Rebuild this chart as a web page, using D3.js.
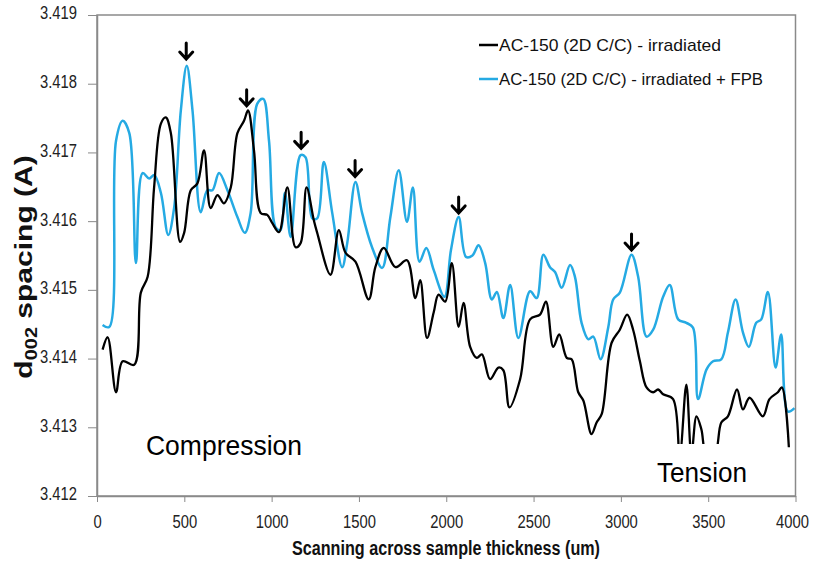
<!DOCTYPE html>
<html><head><meta charset="utf-8">
<script src="https://cdn.jsdelivr.net/npm/d3@7"></script>
<style>body{margin:0;background:#fff}svg{display:block}</style>
</head><body>
<svg id="chart" width="813" height="561"></svg>
<script>
// ---- data ----
const xTicks = [0,500,1000,1500,2000,2500,3000,3500,4000];
const yTicks = [3.412,3.413,3.414,3.415,3.416,3.417,3.418,3.419];
const seriesNames = ["AC-150 (2D C/C) - irradiated", "AC-150 (2D C/C) -  irradiated + FPB"];
const blackX = [32,61,109,147,213,251,290,327,366,394,423,476,499,537,575,613,651,690,727,766,804,842,865,899,937,975,1004,1042,1090,1137,1166,1200,1242,1261,1337,1385,1423,1480,1556,1594,1642,1709,1775,1823,1851,1890,1928,1956,1994,2032,2071,2099,2137,2175,2204,2251,2299,2327,2362,2423,2480,2537,2571,2613,2647,2690,2718,2756,2785,2832,2861,2890,2947,2994,3036,3070,3109,3147,3185,3213,3242,3299,3337,3375,3404,3433,3461,3490,3537,3575,3613,3665,3699,3737,3813,3851,3899,3922,3962];
const blackY = [3.41413,3.41431,3.41351,3.41396,3.41391,3.41496,3.41519,3.41649,3.41742,3.41751,3.41728,3.4157,3.41583,3.41645,3.41655,3.41703,3.41619,3.41638,3.41626,3.41649,3.41728,3.41746,3.41761,3.41703,3.41612,3.41609,3.41597,3.41584,3.41649,3.41562,3.41568,3.41649,3.41601,3.41583,3.41522,3.41587,3.41554,3.41541,3.41486,3.41533,3.41561,3.41533,3.41543,3.41488,3.41514,3.4143,3.41467,3.41493,3.41483,3.41539,3.41446,3.41481,3.41417,3.41401,3.41406,3.4137,3.41387,3.41383,3.41329,3.4137,3.41457,3.41464,3.41483,3.41417,3.41435,3.41401,3.41399,3.41351,3.41339,3.4129,3.41307,3.41319,3.41423,3.41442,3.41464,3.41442,3.41396,3.41358,3.41351,3.41355,3.41348,3.41341,3.4126,3.41362,3.4126,3.41316,3.41297,3.4126,3.4126,3.41307,3.41316,3.41355,3.41326,3.41343,3.41316,3.41341,3.41351,3.41358,3.41271];
const blueX = [32,70,109,147,185,223,261,299,328,366,408,442,480,514,547,594,632,661,699,747,804,846,880,918,952,985,1023,1051,1076,1109,1166,1194,1233,1261,1299,1347,1404,1433,1480,1518,1575,1633,1680,1728,1775,1809,1847,1886,1928,1990,2027,2071,2113,2150,2185,2223,2261,2290,2327,2366,2413,2480,2518,2556,2594,2623,2661,2709,2737,2775,2814,2842,2884,2928,2956,2994,3061,3099,3147,3185,3242,3280,3328,3375,3413,3442,3490,3528,3575,3613,3657,3699,3733,3775,3804,3842,3886,3918,3956,3994];
const blueY = [3.41449,3.41446,3.41717,3.41746,3.41728,3.41539,3.4167,3.41662,3.41667,3.41641,3.4158,3.4162,3.41761,3.41826,3.41761,3.41613,3.41645,3.41645,3.4167,3.41645,3.41606,3.41583,3.41612,3.41771,3.41778,3.41717,3.41591,3.41587,3.41641,3.41577,3.41696,3.41693,3.41604,3.41604,3.41686,3.41612,3.41533,3.41568,3.41657,3.41612,3.41562,3.41532,3.41606,3.41674,3.41599,3.41649,3.41541,3.41561,3.41529,3.4149,3.41558,3.41606,3.41548,3.4155,3.41565,3.41539,3.41486,3.41497,3.41459,3.41507,3.4143,3.41498,3.41488,3.41551,3.41533,3.41526,3.41503,3.41536,3.41519,3.41452,3.41428,3.41432,3.41399,3.41446,3.41486,3.41496,3.41551,3.41519,3.41432,3.41442,3.4149,3.41507,3.41457,3.41452,3.41445,3.41341,3.41384,3.41396,3.41399,3.41438,3.41486,3.41438,3.41417,3.41452,3.41457,3.41497,3.41387,3.41435,3.41323,3.41328];
const arrowX = [511,857,1169,1478,2071,3061];
const arrowY = [3.41833,3.41765,3.41703,3.41662,3.41609,3.41555];

// ---- layout ----
const svg = d3.select("#chart");
const L = 97, R = 795.5, T = 15, B = 496;
const x = d3.scaleLinear().domain([0,4000]).range([L,R]);
const y = d3.scaleLinear().domain([3.412,3.419]).range([B,T]);
const sans = "'Liberation Sans',Arial,sans-serif";
const gray = "#8a8a8a";
function squeeze(sel, f){
  sel.each(function(){ const w = this.getComputedTextLength(); d3.select(this).attr("textLength", w*f).attr("lengthAdjust","spacingAndGlyphs"); });
}

// lines
const line = d3.line().x(d=>x(d[0])).y(d=>y(d[1])).curve(d3.curveCatmullRom.alpha(0.5));
const black = blackX.map((v,i)=>[v,blackY[i]]);
const blue = blueX.map((v,i)=>[v,blueY[i]]);
svg.append("defs").append("clipPath").attr("id","clip").append("rect")
  .attr("x",L).attr("y",T).attr("width",R-L).attr("height",B-T);
const g = svg.append("g").attr("clip-path","url(#clip)");
g.append("path").datum(blue).attr("d",line).attr("fill","none").attr("stroke","#25aae3").attr("stroke-width",2.5).attr("stroke-linejoin","round");
g.append("path").datum(black).attr("d",line).attr("fill","none").attr("stroke","#000").attr("stroke-width",2.3).attr("stroke-linejoin","round");

// region labels (white boxes)
svg.append("rect").attr("x",143).attr("y",432).attr("width",165).attr("height",30).attr("fill","#fff");
svg.append("rect").attr("x",652).attr("y",444).attr("width",100).attr("height",48).attr("fill","#fff");
svg.append("text").attr("x",146).attr("y",455).attr("font-family",sans).attr("font-size",28)
  .attr("textLength",156).attr("lengthAdjust","spacingAndGlyphs").text("Compression");
svg.append("text").attr("x",657).attr("y",482).attr("font-family",sans).attr("font-size",28)
  .attr("textLength",90).attr("lengthAdjust","spacingAndGlyphs").text("Tension");

// frame
svg.append("rect").attr("x",L).attr("y",T).attr("width",R-L).attr("height",B-T)
  .attr("fill","none").attr("stroke",gray).attr("stroke-width",1.5);

// axes
const xa = svg.append("g").attr("transform",`translate(0,${B})`)
  .call(d3.axisBottom(x).tickValues(xTicks).tickSize(6).tickSizeOuter(0).tickFormat(d3.format("d")));
xa.select(".domain").attr("stroke",gray).attr("stroke-width",1.5);
xa.selectAll(".tick line").attr("stroke",gray);
xa.selectAll(".tick text").attr("font-family",sans).attr("font-size",18.5).attr("fill","#222").attr("dy",0).attr("y",32);
squeeze(xa.selectAll(".tick text"), 0.8);
xa.selectAll(".tick").filter(d=>d===4000).select("text").attr("text-anchor","end").attr("x",13);

const ya = svg.append("g").attr("transform",`translate(${L},0)`)
  .call(d3.axisLeft(y).tickValues(yTicks).tickSize(9).tickSizeOuter(0).tickFormat(d3.format(".3f")));
ya.select(".domain").attr("stroke",gray).attr("stroke-width",1.5);
ya.selectAll(".tick line").attr("stroke",gray);
ya.selectAll(".tick text").attr("font-family",sans).attr("font-size",18).attr("fill","#222").attr("x",-20).attr("dy","0.22em");
squeeze(ya.selectAll(".tick text"), 0.82);

// arrows
const ag = svg.append("g").attr("stroke","#000").attr("stroke-width",3).attr("fill","none").attr("stroke-linecap","round").attr("stroke-linejoin","miter");
arrowX.forEach((v,i)=>{
  const ax = x(v), ay = y(arrowY[i]) - 1;
  ag.append("path").attr("d",`M${ax},${ay-17}L${ax},${ay-2}M${ax-6.5},${ay-8}L${ax},${ay-1}L${ax+6.5},${ay-8}`);
});

// legend
const leg = [{c:"#000",yy:45},{c:"#25aae3",yy:79}];
seriesNames.forEach((n,i)=>{
  svg.append("line").attr("x1",479).attr("x2",498).attr("y1",leg[i].yy).attr("y2",leg[i].yy).attr("stroke",leg[i].c).attr("stroke-width",2.5);
  svg.append("text").attr("x",499).attr("y",leg[i].yy+6).attr("font-family",sans).attr("font-size",17).attr("fill","#111")
    .attr("textLength", i===0?222:264).attr("lengthAdjust","spacingAndGlyphs").text(n);
});

// axis titles
svg.append("text").attr("x",446).attr("y",555).attr("text-anchor","middle").attr("font-family",sans).attr("font-weight","bold")
  .attr("font-size",20).attr("fill","#111").attr("textLength",308).attr("lengthAdjust","spacingAndGlyphs").text("Scanning across sample thickness (um)");
const yt = svg.append("text").attr("transform","translate(32,267) rotate(-90) scale(1.25,1)").attr("text-anchor","middle")
  .attr("font-family",sans).attr("font-weight","bold").attr("font-size",24).attr("fill","#111");
yt.append("tspan").text("d");
yt.append("tspan").attr("font-size",16).attr("dy",5).text("002");
yt.append("tspan").attr("dy",-5).text(" spacing (A)");
</script>
</body></html>
